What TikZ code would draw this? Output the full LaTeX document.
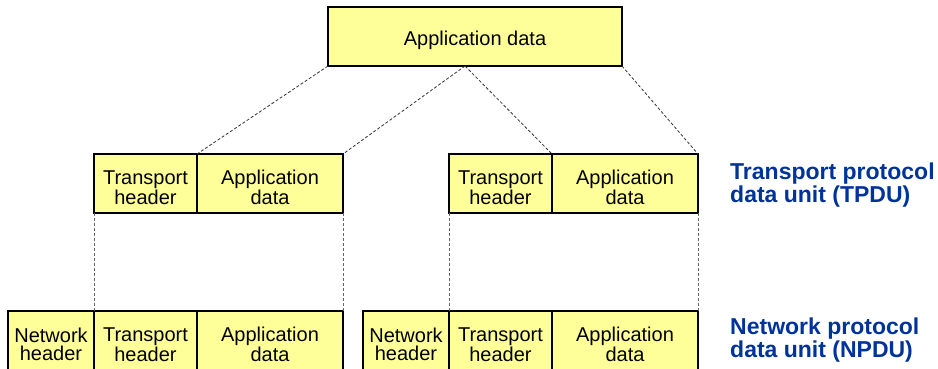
\documentclass[tikz,border=0pt]{standalone}
\usepackage{fontspec}
\setmainfont{Liberation Sans}
\usepackage{tikz}
\usetikzlibrary{positioning}
\definecolor{boxyellow}{RGB}{255,255,153}
\definecolor{pdublue}{RGB}{0,51,153}
\newcommand{\lowtext}{\rule{0pt}{22.5pt}}

\begin{document}
\begin{tikzpicture}[x=1pt,y=-1pt,
                    box node/.style={rectangle,draw,line width=1.5pt,fill=boxyellow,inner sep=0pt,outer sep=0pt,
                                     minimum height=59pt,align=center,font=\fontsize{20}{18}\selectfont},
                    head node/.style={box node,minimum width=103pt},
                    net node/.style={box node,minimum width=86pt},
                    data node/.style={box node,minimum width=146pt},
                    pdu label/.style={anchor=west,inner sep=0pt,align=left,text=pdublue,
                                      font=\fontsize{23}{23}\selectfont\bfseries},
                    split/.style={dash pattern=on 3pt off 2pt,line width=0.8pt,black!80}]

  \useasboundingbox (0,0) rectangle (938,368);

  \node[box node,minimum width=294pt,anchor=north west] (A) at (328,7) {\lowtext Application data};

  % transport layer
  \node[head node,anchor=north west] (TH1) at (94,154) {\lowtext Transport\\header};
  \node[data node] (AD1) [right=0pt of TH1] {\lowtext Application\\data};

  \node[head node,anchor=north west] (TH2) at (449,154) {\lowtext Transport\\header};
  \node[data node] (AD2) [right=0pt of TH2] {\lowtext Application\\data};

  % network layer
  \node[head node,anchor=north west] (TH3) at (94,311) {\lowtext Transport\\header};
  \node[net node] (NH3) [left=0pt of TH3] {\lowtext Network\\header};
  \node[data node] (AD3) [right=0pt of TH3] {\lowtext Application\\data};

  \node[head node,anchor=north west] (TH4) at (449,311) {\lowtext Transport\\header};
  \node[net node] (NH4) [left=0pt of TH4] {\lowtext Network\\header};
  \node[data node] (AD4) [right=0pt of TH4] {\lowtext Application\\data};

  \node[pdu label] (TPDU) at (730,185.5) {Transport protocol\\data unit (TPDU)};
  \node[pdu label] (NPDU) at (730,340) {Network protocol\\data unit (NPDU)};

  \coordinate (Asplit) at ([xshift=-10pt]A.south);

  \draw[split]
  	(A.south west) -- (AD1.north west)
  	(Asplit) -- (AD1.north east)
  	(Asplit) -- (AD2.north west)
  	(A.south east) -- (AD2.north east);

  \draw[split, black!60]
  	(TH1.south west) -- (TH3.north west)
  	(AD1.south east) -- (AD3.north east)
  	(TH2.south west) -- (TH4.north west)
  	(AD2.south east) -- (AD4.north east);
\end{tikzpicture}
\end{document}
